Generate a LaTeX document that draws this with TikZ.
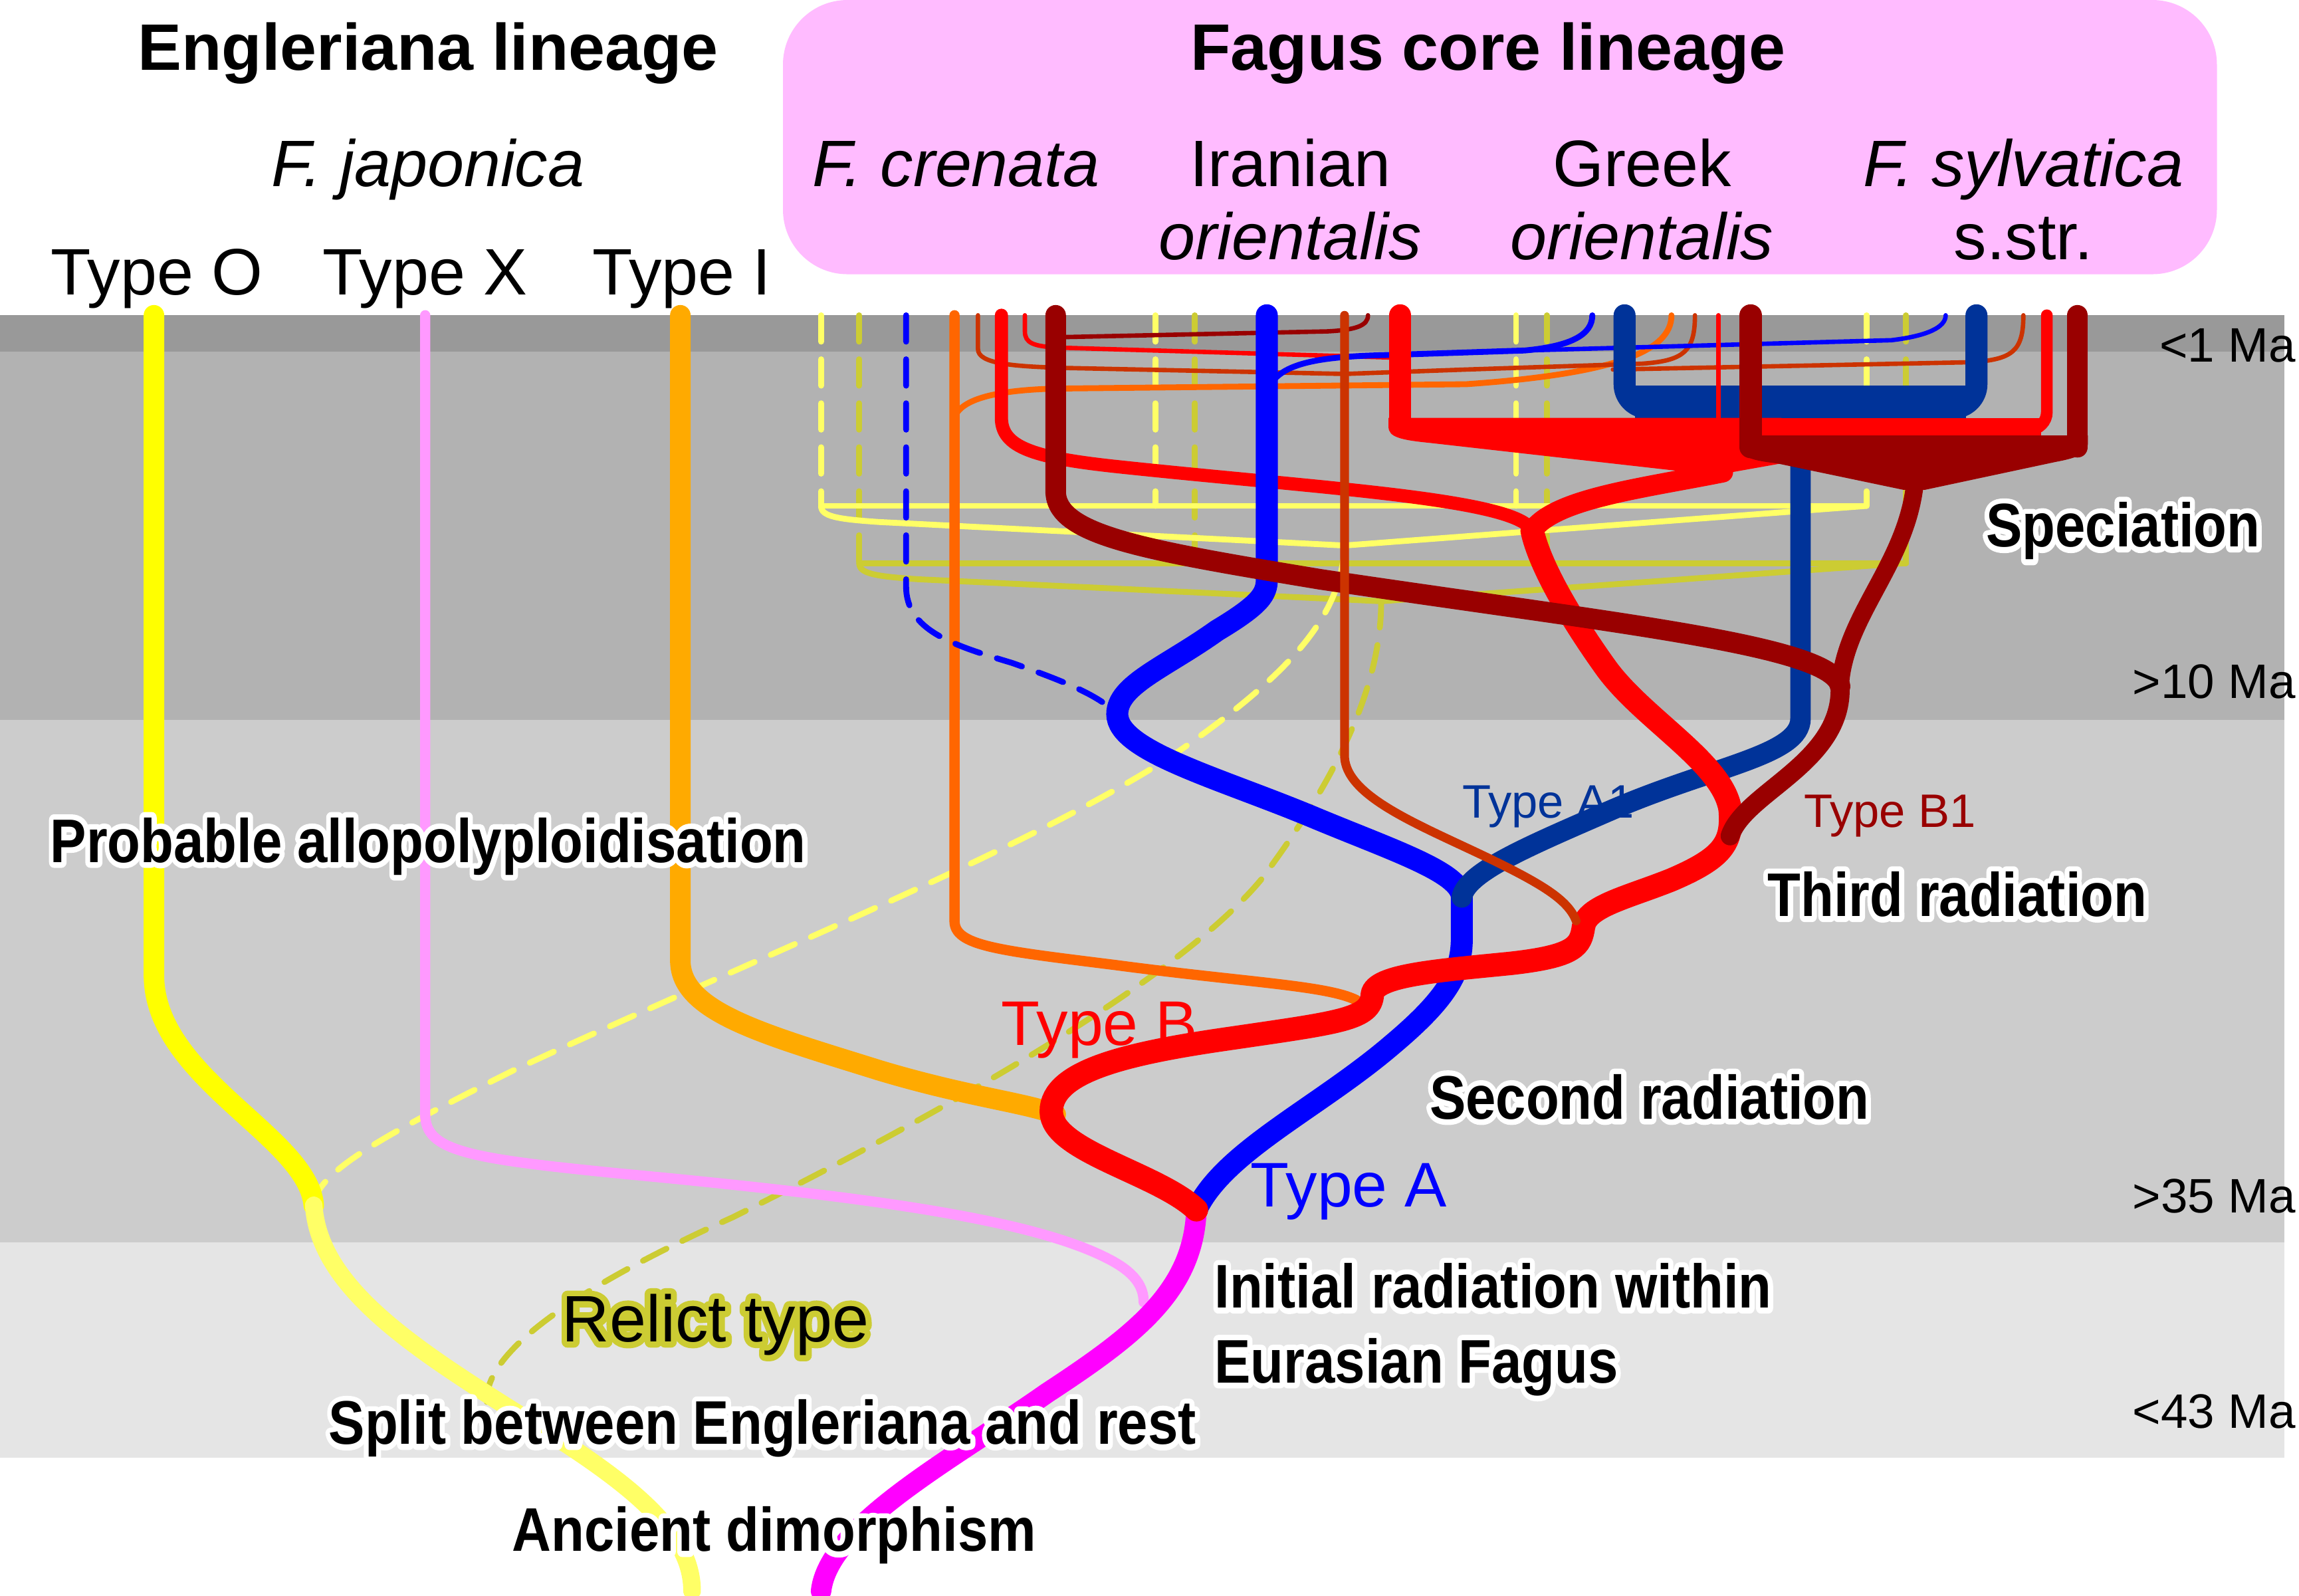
\documentclass[tikz,border=0pt]{standalone}
\usepackage{fontspec}
\setmainfont{Liberation Sans}
\newfontfamily\halofont[FakeBold=18]{Liberation Sans Bold}
\newfontfamily\halolight[FakeBold=18]{Liberation Sans}
\usetikzlibrary{positioning}

\definecolor{bandA}{HTML}{999999}
\definecolor{bandB}{HTML}{B2B2B2}
\definecolor{bandC}{HTML}{CCCCCC}
\definecolor{bandD}{HTML}{E5E5E5}
\definecolor{corepink}{HTML}{FFBBFF}
\definecolor{typeO}{HTML}{FFFF00}
\definecolor{paleyel}{HTML}{FFFF66}
\definecolor{relict}{HTML}{CCCC33}
\definecolor{typeX}{HTML}{FF99FF}
\definecolor{typeI}{HTML}{FFAA00}
\definecolor{ancient}{HTML}{FF00FF}
\definecolor{crenorange}{HTML}{FF6600}
\definecolor{rust}{HTML}{CC3300}
\definecolor{typeAone}{HTML}{003399}
\definecolor{typeBone}{HTML}{990000}

\newcommand{\evlabel}[1]{\scalebox{0.88}[1]{\ooalign{\hfil\textcolor{white}{\special{pdf:literal direct 1 j}\normalfont\halofont #1}\hfil\cr\hfil#1\hfil\cr}}}
\newcommand{\relabel}[1]{\ooalign{\hfil\textcolor{relict}{\special{pdf:literal direct 1 j}\halolight #1}\hfil\cr\hfil#1\hfil\cr}}

\begin{document}
\begin{tikzpicture}[x=0.5pt, y=-0.5pt, line cap=round,
    heading/.style={font=\bfseries\fontsize{22.4}{26}\selectfont, anchor=base, inner sep=0pt},
    taxon/.style={font=\fontsize{22.4}{26}\selectfont, anchor=base, inner sep=0pt},
    event/.style={font=\bfseries\fontsize{21}{25}\selectfont, anchor=base, inner sep=0pt},
    age/.style={font=\fontsize{16.5}{20}\selectfont, anchor=base east, inner sep=0pt},
    lineage/.style={font=\fontsize{21.5}{25}\selectfont, anchor=base, inner sep=0pt},
    sublineage/.style={font=\fontsize{16}{19}\selectfont, anchor=base, inner sep=0pt},
    dashline/.style={line width=2pt, dash pattern=on 9pt off 6pt},
    thinline/.style={line width=1.5pt}]
    \useasboundingbox (0,0) rectangle (1568,1088);

    \fill[bandA] (0,215) rectangle (1558,240);
    \fill[bandB] (0,240) rectangle (1558,491);
    \fill[bandC] (0,491) rectangle (1558,847);
    \fill[bandD] (0,847) rectangle (1558,994);
    \fill[corepink, rounded corners=22pt] (534,0) rectangle (1512,187);

    \coordinate (root) at (816,825);
    \coordinate (splitO) at (214,822);
    \coordinate (relictend) at (332,956);
    \coordinate (Ajoin) at (997,612);
    \coordinate (Bmerge) at (1045,362);
    \coordinate (B1end) at (1180,570);
    \coordinate (yelV) at (917,372);
    \coordinate (relV) at (942,410);
    \coordinate (drjoin) at (1255,468);

    \foreach \x in {560,788,1034,1273}
        \draw[paleyel, dashline] (\x,215) -- (\x,345);
    \foreach \x in {586,815,1055,1300}
        \draw[relict, dashline] (\x,215) -- (\x,384);
    \draw[paleyel, line width=2pt] (560,345) -- (1273,345);
    \draw[paleyel, line width=2pt] (560,345) .. controls (560,352) and (570,354) .. (600,356) -- (yelV) -- (1273,345);
    \draw[relict, line width=2pt] (586,384) -- (1300,384);
    \draw[relict, line width=2pt] (586,384) .. controls (586,391) and (596,393) .. (626,395) -- (relV) -- (1300,384);
    \draw[paleyel, dashline] (yelV) .. controls (915,420) and (880,460) .. (800,515) .. controls (700,580) and (500,660) .. (350,730) .. controls (260,775) and (215,800) .. (splitO);
    \draw[relict, dashline] (relV) .. controls (942,460) and (920,520) .. (860,600) .. controls (810,660) and (680,740) .. (500,830) .. controls (400,875) and (330,920) .. (relictend);

    \draw[crenorange, line width=2pt] (651,285) .. controls (655,272) and (680,266) .. (720,265) -- (1000,262) .. controls (1100,255) and (1140,240) .. (1140,215);
    \draw[rust, thinline] (667,215) -- (667,238) .. controls (667,248) and (690,250) .. (730,251) -- (917,255) -- (1000,252) -- (1120,248) .. controls (1148,246) and (1156,240) .. (1156,215);
    \draw[rust, thinline] (1100,252) -- (1345,247) .. controls (1372,245) and (1380,240) .. (1380,215);
    \draw[red, thinline] (699,215) -- (699,226) .. controls (699,234) and (705,236) .. (720,237) -- (955,244);
    \draw[typeBone, thinline] (720,230) -- (905,226) .. controls (925,225) and (933,222) .. (933,215);
    \draw[blue, line width=2pt] (864,268) .. controls (870,247) and (900,243) .. (950,242) -- (1040,239) .. controls (1072,236) and (1086,228) .. (1086,215);
    \draw[blue, thinline] (1040,239) -- (1290,232) .. controls (1315,229) and (1327,223) .. (1327,215);

    \draw[typeO, line width=7pt] (105,215) -- (105,665) .. controls (105,735) and (210,775) .. (splitO);
    \draw[paleyel, line width=6pt] (splitO) .. controls (218,885) and (300,930) .. (385,984) .. controls (440,1020) and (472,1050) .. (472,1085);
    \draw[typeX, line width=3.5pt] (290,215) -- (290,760) .. controls (290,785) and (320,790) .. (420,800) .. controls (580,815) and (700,830) .. (755,858) .. controls (775,868) and (780,878) .. (780,888);
    \draw[typeI, line width=7pt] (464,215) -- (464,655) .. controls (464,690) and (520,705) .. (600,730) .. controls (660,748) and (700,752) .. (720,760);
    \draw[ancient, line width=7pt] (root) .. controls (814,880) and (775,910) .. (714,950) .. controls (650,995) and (565,1040) .. (560,1085);

    \draw[crenorange, line width=3.5pt] (651,215) -- (651,628) .. controls (651,645) and (680,648) .. (760,658) .. controls (850,670) and (905,672) .. (925,682);
    \draw[red, line width=4.5pt] (683,215) -- (683,285) .. controls (683,305) and (705,312) .. (760,318) .. controls (900,333) and (1035,340) .. (Bmerge);
    \draw[blue, dashline] (618,215) -- (618,400) .. controls (618,430) and (650,440) .. (690,452) .. controls (730,466) and (750,475) .. (762,487);
    \draw[blue, line width=7.5pt] (root) .. controls (835,785) and (900,755) .. (950,712) .. controls (988,680) and (997,662) .. (997,640) -- (Ajoin) .. controls (997,595) and (950,580) .. (895,557) .. controls (830,530) and (762,512) .. (762,487) .. controls (762,467) and (795,455) .. (830,430) .. controls (860,412) and (864,405) .. (864,395) -- (864,215);
    \draw[typeAone, line width=7pt] (Ajoin) .. controls (1000,595) and (1040,578) .. (1100,552) .. controls (1170,522) and (1228,515) .. (1228,490) -- (1228,280);
    \draw[typeAone, line width=7.5pt, rounded corners=8pt] (1108,215) -- (1108,278) -- (1348,278) -- (1348,215);
    \fill[typeAone] (1115,263) rectangle (1341,285);

    \draw[red, line width=7pt] (Bmerge) .. controls (1060,340) and (1120,333) .. (1175,322);
    \fill[red] (947,285) -- (947,291) .. controls (947,298) and (955,300) .. (975,302) -- (1170,324) -- (1215,316) -- (1215,285) -- cycle;
    \draw[red, line width=7.5pt] (955,215) -- (955,288);
    \fill[red] (950,285) rectangle (1392,297);
    \draw[red, line width=4pt, rounded corners=6pt] (1396,215) -- (1396,293) -- (1380,293);
    \draw[red, thinline] (1172,215) -- (1172,290);
    \draw[red, line width=8pt] (root) .. controls (790,800) and (717,785) .. (717,758) .. controls (717,730) and (770,718) .. (840,708) .. controls (915,697) and (935,695) .. (936,678) .. controls (938,665) and (980,662) .. (1030,657) .. controls (1075,652) and (1078,645) .. (1080,632) .. controls (1082,618) and (1110,612) .. (1140,600) .. controls (1175,585) and (1182,575) .. (1180,552) .. controls (1175,520) and (1120,490) .. (1095,455) .. controls (1070,420) and (1050,385) .. (Bmerge);

    \draw[typeBone, line width=7pt] (720,215) -- (720,335) .. controls (720,365) and (780,375) .. (900,395) .. controls (1100,425) and (1250,440) .. (drjoin);
    \draw[typeBone, line width=6.5pt] (drjoin) .. controls (1257,520) and (1190,540) .. (B1end);
    \draw[typeBone, line width=6pt] (1306,330) .. controls (1300,385) and (1258,420) .. (drjoin);
    \draw[typeBone, line width=7.5pt] (1194,215) -- (1194,305);
    \draw[typeBone, line width=7pt] (1417,215) -- (1417,305);
    \fill[typeBone] (1187,297) -- (1187,304) .. controls (1187,312) and (1195,314) .. (1212,316) -- (1298,334) -- (1313,334) -- (1402,315) .. controls (1418,312) and (1424,309) .. (1424,302) -- (1424,297) -- cycle;

    \draw[rust, line width=3pt] (917,215) -- (917,515) .. controls (917,545) and (975,565) .. (1025,590) .. controls (1055,605) and (1070,615) .. (1075,628);

    \node[heading] (engl) at (292,48) {Engleriana lineage};
    \node[heading] (core) at (1015,48) {Fagus core lineage};
    \node[taxon] (japon) at (292,127) {\itshape F. japonica};
    \node[taxon] (typO) at (107,201) {Type O};
    \node[taxon] (typX) at (290,201) {Type X};
    \node[taxon] (typI) at (465,201) {Type I};
    \node[taxon] (cren) at (652,127) {\itshape F. crenata};
    \node[taxon] (iran) at (880,127) {Iranian};
    \node[taxon] (iranori) at ([yshift=-25pt]iran.base) {\itshape orientalis};
    \node[taxon] (greek) at (1120,127) {Greek};
    \node[taxon] (greekori) at ([yshift=-25pt]greek.base) {\itshape orientalis};
    \node[taxon] (sylv) at (1380,127) {\itshape F. sylvatica};
    \node[taxon] (sstr) at ([yshift=-25pt]sylv.base) {s.str.};

    \node[age] (ma1) at (1566,247) {<1 Ma};
    \node[age] (ma10) at (1566,476) {>10 Ma};
    \node[age] (ma35) at (1566,827) {>35 Ma};
    \node[age] (ma43) at (1566,974) {<43 Ma};

    \node[event] (spec) at (1448,373) {\evlabel{Speciation}};
    \node[event] (third) at (1335,625) {\evlabel{Third radiation}};
    \node[event] (second) at (1125,763) {\evlabel{Second radiation}};
    \node[event] (allo) at (292,588) {\evlabel{Probable allopolyploidisation}};
    \node[event, anchor=base west] (init) at (828,892) {\evlabel{Initial radiation within}};
    \node[event, anchor=base west] (eura) at ([yshift=-25.5pt]init.base west) {\evlabel{Eurasian Fagus}};
    \node[event] (split) at (520,985) {\evlabel{Split between Engleriana and rest}};
    \node[event] (ancient) at (528,1058) {\evlabel{Ancient dimorphism}};
    \node[taxon] (relic) at (488,915) {\relabel{Relict type}};

    \node[lineage, red] (tB) at (750,713) {Type B};
    \node[lineage, blue] (tA) at (920,823) {Type A};
    \node[sublineage, typeAone] (tA1) at (1056,558) {Type A1};
    \node[sublineage, typeBone] (tB1) at (1289,564) {Type B1};
\end{tikzpicture}
\end{document}
